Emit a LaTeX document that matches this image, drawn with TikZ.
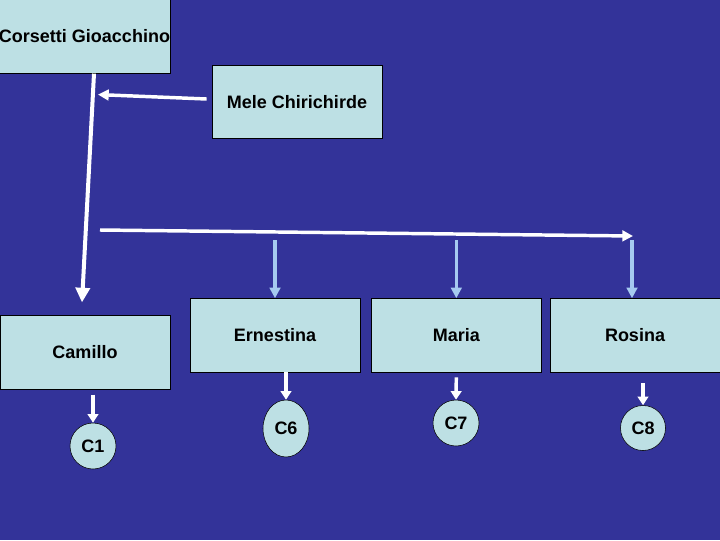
\documentclass[tikz,border=0pt]{standalone}
\usepackage{fontspec}
\setmainfont{Liberation Sans}
\usetikzlibrary{arrows.meta,shapes.geometric}
\definecolor{bgblue}{RGB}{51,51,153}
\definecolor{boxfill}{RGB}{189,224,228}
\definecolor{lblue}{RGB}{166,202,240}
\begin{document}
\begin{tikzpicture}[x=0.75pt,y=-0.75pt,
  person/.style={draw=black, line width=0.6pt, fill=boxfill, minimum width=127.5pt,
    minimum height=55pt, inner sep=0pt, font=\fontsize{13.5}{16}\selectfont\bfseries},
  child/.style={ellipse, draw=black, line width=0.4pt, fill=boxfill, minimum width=34.5pt,
    minimum height=34.5pt, inner sep=0pt, font=\fontsize{13.5}{16}\selectfont\bfseries},
  bigarr/.style={draw=white, line width=3pt, -{Triangle[length=11pt,width=10.5pt]}},
  midarr/.style={draw=white, line width=2.6pt, -{Triangle[length=8pt,width=8pt]}},
  bluearr/.style={draw=lblue, line width=2.6pt, -{Triangle[length=8pt,width=8pt]}},
  smallarr/.style={draw=white, line width=2.6pt, -{Triangle[length=6.5pt,width=8pt]}}
]
\fill[bgblue] (0,0) rectangle (720,540);
\useasboundingbox (0,0) rectangle (720,540);

% people
\node[person, minimum width=129pt] (G) at (84.5,36.5) {Corsetti Gioacchino};
\node[person] (M) at (297,102) {Mele Chirichirde};
\node[person] (Cam) at (85,352.5) {Camillo};
\node[person] (E) at (275,335.3) {Ernestina};
\node[person] (Ma) at (456.3,335.3) {Maria};
\node[person] (R) at (635,335.3) {Rosina};

% children
\node[child] (C1) at (93,446) {C1};
\node[child, minimum height=42.75pt] (C6) at (286,428.5) {C6};
\node[child] (C7) at (456,423) {C7};
\node[child, minimum width=33.75pt, minimum height=33.75pt] (C8) at (643,428) {C8};

% free ends
\coordinate (hstart) at (100,230);
\coordinate (hend) at (633,236);

% main links
\draw[bigarr] ([shift={(9.5,0)}]G.south) -- ([shift={(-3,-13)}]Cam.north);
\draw[midarr] ([shift={(-5,-3)}]M.west) -- ([shift={(13.5,21)}]G.south);
\draw[midarr] (hstart) -- (hend);

% to the daughters
\draw[bluearr] ([shift={(0,-58)}]E.north) -- (E.north);
\draw[bluearr] ([shift={(0,-58)}]Ma.north) -- (Ma.north);
\draw[bluearr] ([shift={(-3,-58)}]R.north) -- ([shift={(-3,0)}]R.north);

% to the children
\draw[smallarr] ([shift={(8,5)}]Cam.south) -- (C1.north);
\draw[smallarr] ([shift={(11,0)}]E.south) -- (C6.north);
\draw[smallarr] ([shift={(0,5)}]Ma.south) -- (C7.north);
\draw[smallarr] ([shift={(8,11)}]R.south) -- (C8.north);
\end{tikzpicture}
\end{document}
